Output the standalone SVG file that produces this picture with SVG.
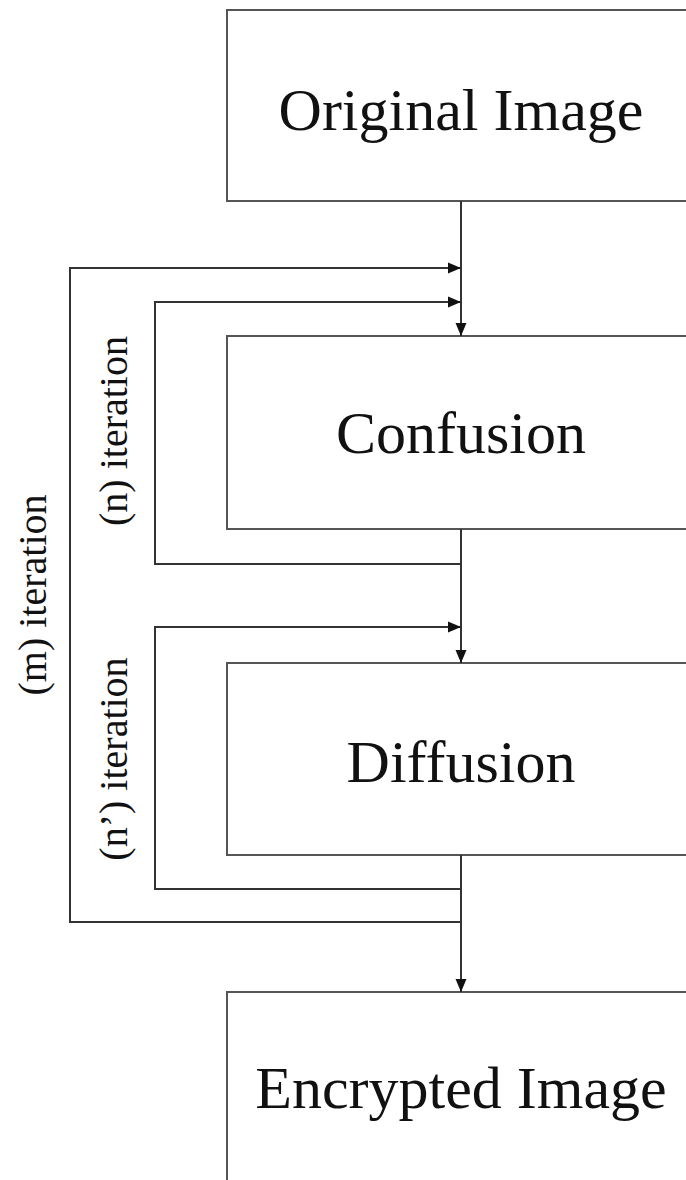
<svg xmlns="http://www.w3.org/2000/svg" width="686" height="1180" viewBox="0 0 686 1180">
<defs>
<marker id="arr" viewBox="0 0 13 12" refX="13" refY="6" markerWidth="13" markerHeight="12" markerUnits="userSpaceOnUse" orient="auto">
<path d="M0,0.5 L13,6 L0,11.5 Z" fill="#111"/>
</marker>
<style>
.box{fill:#fff;stroke:#555;stroke-width:2}
.lbl{font-family:"Liberation Serif","Times New Roman",serif;font-size:60px;fill:#111;text-anchor:middle}
.it{font-family:"Liberation Serif","Times New Roman",serif;font-size:40px;fill:#111;text-anchor:middle}
.ln{fill:none;stroke:#333;stroke-width:2}
</style>
</defs>
<rect width="686" height="1180" fill="#fff"/>
<g id="original">
<rect class="box" x="227" y="10" width="480" height="191"/>
<text class="lbl" x="461" y="130">Original Image</text>
</g>
<g id="confusion">
<rect class="box" x="227" y="336" width="480" height="193"/>
<text class="lbl" x="461" y="453">Confusion</text>
</g>
<g id="diffusion">
<rect class="box" x="227" y="663" width="480" height="192"/>
<text class="lbl" x="461" y="782">Diffusion</text>
</g>
<g id="encrypted">
<rect class="box" x="227" y="992" width="480" height="200"/>
<text class="lbl" x="461" y="1108">Encrypted Image</text>
</g>
<g id="connectors">
<line class="ln" x1="461" y1="201" x2="461" y2="336" marker-end="url(#arr)"/>
<line class="ln" x1="461" y1="529" x2="461" y2="663" marker-end="url(#arr)"/>
<line class="ln" x1="461" y1="855" x2="461" y2="992" marker-end="url(#arr)"/>
<polyline class="ln" points="461,922 70,922 70,268 461,268" marker-end="url(#arr)"/>
<polyline class="ln" points="461,564 155,564 155,302 461,302" marker-end="url(#arr)"/>
<polyline class="ln" points="461,889 155,889 155,627 461,627" marker-end="url(#arr)"/>
</g>
<g id="labels">
<text class="it" transform="translate(46,595) rotate(-90)">(m) iteration</text>
<text class="it" transform="translate(127,431) rotate(-90)">(n) iteration</text>
<text class="it" transform="translate(127,759) rotate(-90)">(n’) iteration</text>
</g>
</svg>
